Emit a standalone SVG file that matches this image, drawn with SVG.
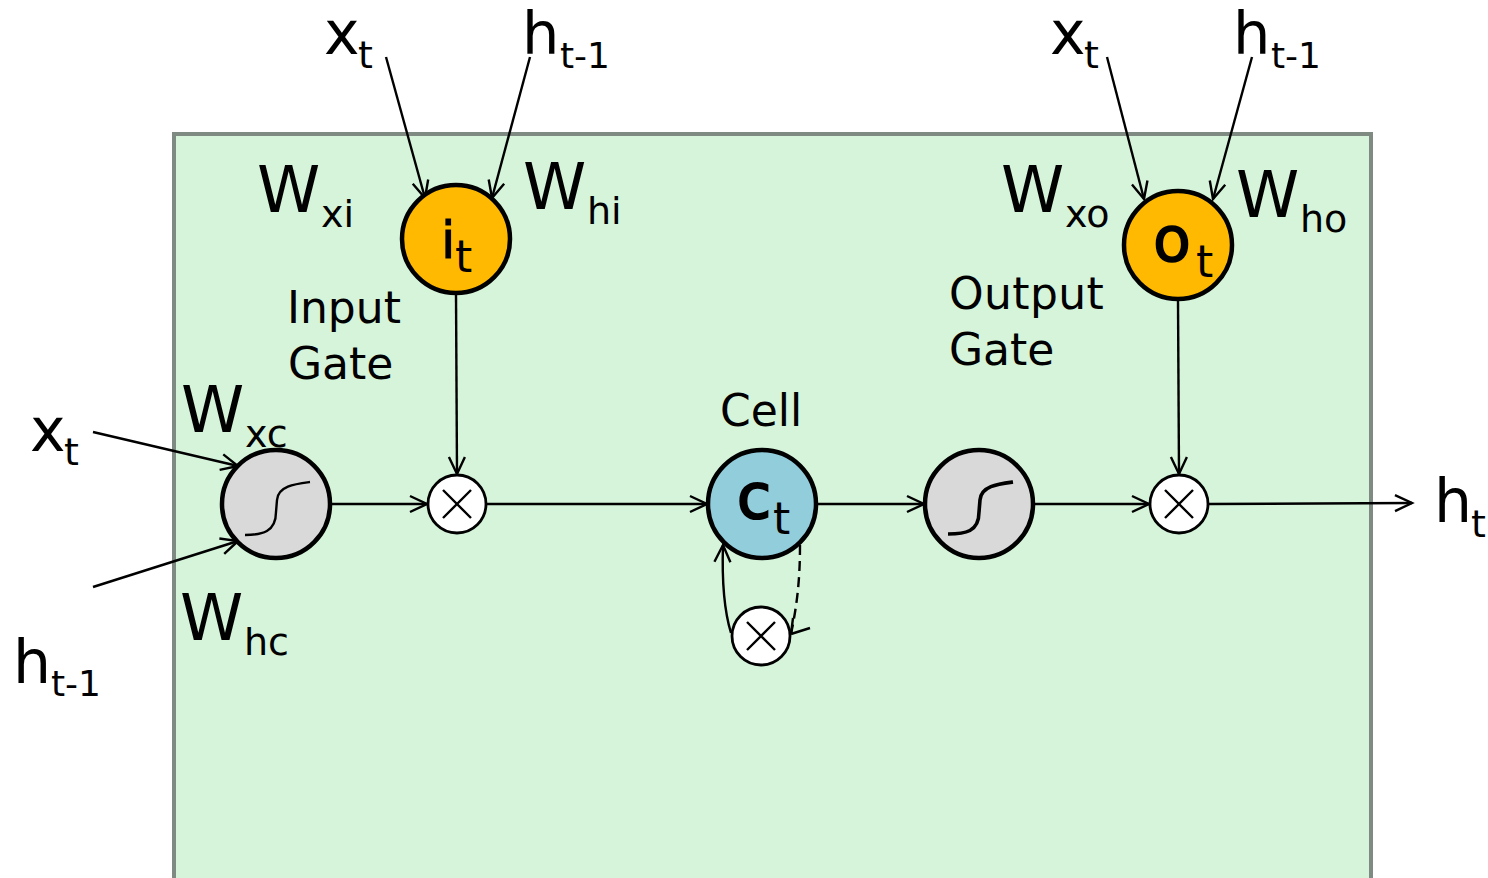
<svg xmlns="http://www.w3.org/2000/svg" width="1488" height="878" viewBox="0 0 1488 878">
<defs>
<marker id="a" markerWidth="22" markerHeight="22" refX="19" refY="10" orient="auto" markerUnits="userSpaceOnUse"><path d="M2 2L19 10L2 18" fill="none" stroke="#000" stroke-width="2.4"/></marker>
</defs>
<style>
text{font-family:"DejaVu Sans","Open Sans",sans-serif;fill:#000}
.b{font-size:60px}.h{font-size:59px}.w{font-size:64px}.s{font-size:38px}.m{font-size:36px}.l{font-size:44px}
.c{stroke:#000;stroke-width:2.4;fill:none}
.n{stroke:#000;stroke-width:4.5}
.x{fill:#fff;stroke:#000;stroke-width:2.8}
</style>
<rect width="1488" height="878" fill="#fff"/>
<rect x="174" y="134" width="1197" height="746" fill="#d5f4da" stroke="#7f8a83" stroke-width="4"/>
<g id="connectors">
<path class="c" marker-end="url(#a)" d="M386 57L425 198"/>
<path class="c" marker-end="url(#a)" d="M530 57L492 198"/>
<path class="c" marker-end="url(#a)" d="M1107 57L1144 199"/>
<path class="c" marker-end="url(#a)" d="M1252 57L1213 199"/>
<path class="c" marker-end="url(#a)" d="M93 432L238 466"/>
<path class="c" marker-end="url(#a)" d="M93 587L238 541"/>
<path class="c" marker-end="url(#a)" d="M456 294L457 474"/>
<path class="c" marker-end="url(#a)" d="M1178 300L1179 474"/>
<path class="c" marker-end="url(#a)" d="M331 504L427 504"/>
<path class="c" marker-end="url(#a)" d="M486 504L707 504"/>
<path class="c" marker-end="url(#a)" d="M817 504L924 504"/>
<path class="c" marker-end="url(#a)" d="M1034 504L1149 504"/>
<path class="c" marker-end="url(#a)" d="M1209 504L1412 503"/>
<path class="c" marker-end="url(#a)" d="M731 633C724 610 722 575 723 545"/>
<path class="c" stroke-width="2.6" stroke-dasharray="10 6" d="M800 545C800 580 797 605 791 634"/>
<path class="c" d="M791 634L810 628M791 634L793 618"/>
</g>
<g id="gate-sigmoid-in"><circle class="n" cx="276" cy="504" r="54" fill="#d9d9d9"/><path class="c" d="M245 535C262 535 276 532 276 512L277 500C278 486 295 484 310 482"/></g>
<g id="mul-input"><circle class="x" cx="457" cy="504" r="29"/><path class="c" d="M443 490L471 518M471 490L443 518"/></g>
<g id="cell"><circle class="n" cx="762" cy="504" r="54" fill="#92cddc"/><text x="737" y="518" style="font-size:62px;stroke:#000;stroke-width:2.2">c</text><text x="773" y="534" class="l">t</text></g>
<g id="mul-cell"><circle class="x" cx="761" cy="636" r="29"/><path class="c" d="M747 622L775 650M775 622L747 650"/></g>
<g id="gate-sigmoid-out"><circle class="n" cx="979" cy="504" r="54" fill="#d9d9d9"/><path d="M948 534C965 534 979 532 979 512L980 500C981 486 998 484 1013 482" fill="none" stroke="#000" stroke-width="3.6"/></g>
<g id="mul-output"><circle class="x" cx="1179" cy="504" r="29"/><path class="c" d="M1165 490L1193 518M1193 490L1165 518"/></g>
<g id="input-gate"><circle class="n" cx="456" cy="239" r="54" fill="#ffb900"/><text x="441" y="258" style="font-size:52px;stroke:#000;stroke-width:1">i</text><text x="455" y="272" class="l">t</text></g>
<g id="output-gate"><circle class="n" cx="1178" cy="245" r="54" fill="#ffb900"/><text x="1153" y="261" style="font-size:62px;stroke:#000;stroke-width:1.5">o</text><text x="1196" y="277" class="l">t</text></g>
<g id="labels">
<text x="324" y="54" class="b">x</text><text x="358" y="68" class="s">t</text>
<text x="522" y="54" class="h">h</text><text x="560" y="68" class="m">t-1</text>
<text x="1050" y="54" class="b">x</text><text x="1084" y="68" class="s">t</text>
<text x="1233" y="54" class="h">h</text><text x="1271" y="68" class="m">t-1</text>
<text x="30" y="451" class="b">x</text><text x="64" y="465" class="s">t</text>
<text x="13" y="683" class="b">h</text><text x="51" y="696" class="m">t-1</text>
<text x="1434" y="522" class="b">h</text><text x="1471" y="537" class="s">t</text>
<text x="257" y="212" class="w">W</text><text x="321" y="227" class="s">xi</text>
<text x="523" y="209" class="w">W</text><text x="587" y="224" class="s">hi</text>
<text x="1001" y="212" class="w">W</text><text x="1065" y="227" class="s">xo</text>
<text x="1236" y="217" class="w">W</text><text x="1300" y="232" class="s">ho</text>
<text x="181" y="432" class="w">W</text><text x="245" y="447" class="s">xc</text>
<text x="180" y="640" class="w">W</text><text x="244" y="655" class="s">hc</text>
<text x="287" y="323" class="l">Input</text><text x="288" y="379" class="l">Gate</text>
<text x="949" y="309" class="l" style="letter-spacing:.4px">Output</text><text x="949" y="365" class="l">Gate</text>
<text x="720" y="426" class="l">Cell</text>
</g>
</svg>
